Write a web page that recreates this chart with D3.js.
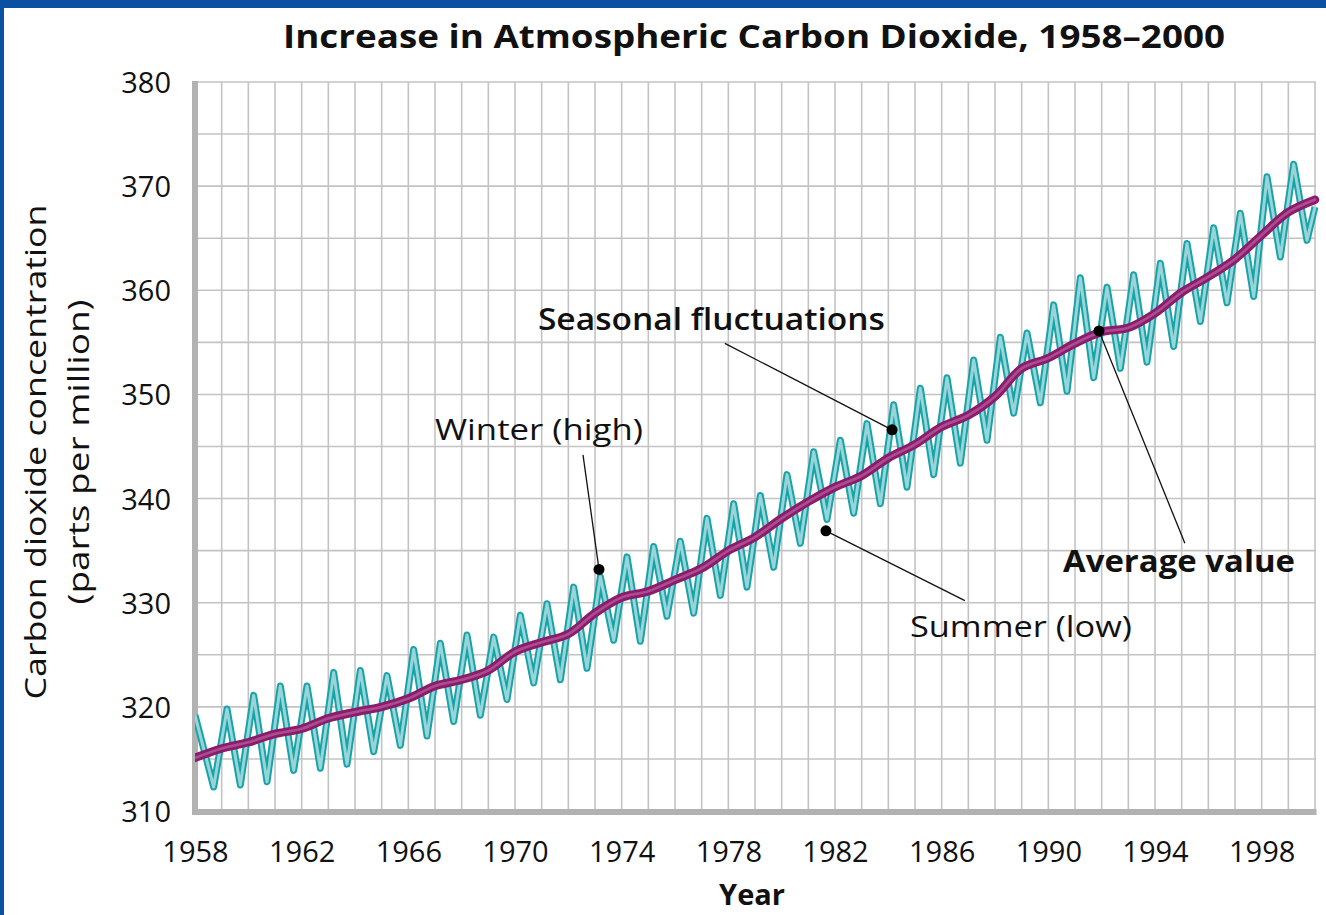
<!DOCTYPE html>
<html>
<head>
<meta charset="utf-8">
<script src="https://cdn.jsdelivr.net/npm/d3@7/dist/d3.min.js"></script>
<style>
  html, body { margin: 0; padding: 0; background: #ffffff; }
  svg { display: block; }
  text { font-family: "Open Sans", "Noto Sans", sans-serif; fill: #111; }
</style>
</head>
<body>
<svg id="chart" width="1326" height="915"></svg>
<script>
// ---------- data ----------
const years = d3.range(1958, 2001);            // 1958 ... 2000
const averageValue = [
  315.1, 316.0, 316.6, 317.4, 317.9, 318.9, 319.5, 320.0, 320.8, 322.0,
  322.6, 323.5, 325.3, 326.2, 327.0, 329.0, 330.5, 331.1, 332.2, 333.3,
  335.0, 336.3, 338.1, 339.7, 341.1, 342.2, 343.9, 345.2, 346.9, 348.0,
  349.8, 352.5, 353.5, 354.9, 356.0, 356.4, 357.8, 359.8, 361.3, 363.0,
  365.3, 367.5, 368.7
];
const seasonYears = d3.range(1958, 2000);      // 1958 ... 1999
const winterHigh = [
  319.2, 319.8, 321.1, 322.0, 322.0, 323.3, 323.5, 323.0, 325.5, 326.1,
  326.9, 326.7, 328.8, 329.9, 331.5, 332.5, 334.4, 335.4, 335.9, 338.1,
  339.5, 340.3, 342.3, 344.5, 345.6, 347.2, 349.0, 350.6, 351.6, 353.3,
  355.5, 355.9, 358.6, 361.2, 360.3, 361.5, 362.6, 364.5, 366.0, 367.4,
  370.9, 372.1
];
const summerLow = [
  312.3, 312.5, 312.8, 313.9, 314.1, 314.5, 315.7, 316.3, 317.2, 318.6,
  319.2, 320.7, 322.3, 322.6, 323.7, 326.4, 326.3, 328.7, 329.0, 330.7,
  331.5, 333.4, 335.7, 338.0, 338.6, 339.5, 341.1, 342.3, 343.4, 345.6,
  348.2, 349.2, 350.3, 351.6, 352.5, 353.1, 354.6, 357.0, 358.8, 359.4,
  363.2, 364.8
];
const seasonEndValue = 368.0;                  // value at 2000.0
const xTickLabels = [1958, 1962, 1966, 1970, 1974, 1978, 1982, 1986, 1990, 1994, 1998];
const yTickLabels = [310, 320, 330, 340, 350, 360, 370, 380];
const titleText = "Increase in Atmospheric Carbon Dioxide, 1958–2000";
const yTitle = ["Carbon dioxide concentration", "(parts per million)"];
const xTitle = "Year";
// annotations: dot & leader end in data coordinates
const annotations = [
  { text: "Seasonal fluctuations", weight: 600, dot: [1984.14, 346.6], end: [1977.87, 354.9], label: [1970.86, 356.2], len: 347 },
  { text: "Winter (high)",         weight: 400, dot: [1973.15, 333.2], end: [1972.55, 344.2], label: [1967.0, 345.6],  len: 208 },
  { text: "Summer (low)",          weight: 400, dot: [1981.66, 336.9], end: [1986.87, 330.2], label: [1984.81, 326.7], len: 222 },
  { text: "Average value",         weight: 700, dot: [1991.90, 356.1], end: [1995.12, 335.7], label: [1990.55, 332.95], len: 232 }
];

// ---------- layout ----------
const svg = d3.select("#chart");
const W = 1326, H = 915;
const x = d3.scaleLinear().domain([1958, 2000]).range([195, 1315]);
const y = d3.scaleLinear().domain([310, 380]).range([811, 82]);

// blue frame
svg.append("rect").attr("x", 0).attr("y", 0).attr("width", W).attr("height", 8).attr("fill", "#0a51a1");
svg.append("rect").attr("x", 0).attr("y", 0).attr("width", 4).attr("height", H).attr("fill", "#0a51a1");

// grid
const grid = svg.append("g");
grid.selectAll("line.v").data(d3.range(1959, 2001)).enter().append("line")
  .attr("x1", d => x(d)).attr("x2", d => x(d))
  .attr("y1", y(380)).attr("y2", y(310))
  .attr("stroke", "#c3c3c3").attr("stroke-width", 1.6);
grid.selectAll("line.h").data(d3.range(315, 381, 5)).enter().append("line")
  .attr("x1", x(1958)).attr("x2", x(2000) + 1)
  .attr("y1", d => y(d)).attr("y2", d => y(d))
  .attr("stroke", "#c3c3c3").attr("stroke-width", 1.6);

// axes (thick gray)
svg.append("line").attr("x1", x(1958)).attr("x2", x(1958))
  .attr("y1", y(380) - 1).attr("y2", y(310) + 4)
  .attr("stroke", "#b2b2b2").attr("stroke-width", 6);
svg.append("line").attr("x1", x(1958) - 3).attr("x2", x(2000) + 1.5)
  .attr("y1", y(310) + 1).attr("y2", y(310) + 1)
  .attr("stroke", "#b2b2b2").attr("stroke-width", 6);

// tick labels via d3 axes (lines hidden)
const xAxis = d3.axisBottom(x).tickValues(xTickLabels).tickFormat(d3.format("d")).tickSize(0).tickPadding(0);
const gx = svg.append("g").attr("transform", `translate(0, ${y(310)})`).call(xAxis);
gx.select(".domain").remove();
gx.selectAll("text").attr("font-size", 29).attr("fill", "#111")
  .attr("font-family", '"Open Sans", sans-serif').attr("dy", null).attr("y", 51);

const yAxis = d3.axisLeft(y).tickValues(yTickLabels).tickFormat(d3.format("d")).tickSize(0).tickPadding(0);
const gy = svg.append("g").attr("transform", `translate(171, 0)`).call(yAxis);
gy.select(".domain").remove();
gy.selectAll("text").attr("font-size", 29).attr("fill", "#111")
  .attr("font-family", '"Open Sans", sans-serif').attr("x", 0).attr("dy", "0.36em");

// clip
svg.append("clipPath").attr("id", "plotclip").append("rect")
  .attr("x", x(1958)).attr("y", y(380)).attr("width", x(2000) - x(1958) + 5).attr("height", y(310) - y(380));

// seasonal series
const seasonal = [];
seasonYears.forEach((yr, i) => {
  seasonal.push([i === 0 ? yr : yr + 0.2, winterHigh[i]]);
  seasonal.push([yr + 0.7, summerLow[i]]);
});
seasonal.push([2000, seasonEndValue]);

const line = d3.line().x(d => x(d[0])).y(d => y(d[1]));
const plot = svg.append("g").attr("clip-path", "url(#plotclip)");
plot.append("path").datum(seasonal).attr("d", line)
  .attr("fill", "none").attr("stroke", "#18a3a9").attr("stroke-width", 7)
  .attr("stroke-linejoin", "round");
plot.append("path").datum(seasonal).attr("d", line)
  .attr("fill", "none").attr("stroke", "#98d5d8").attr("stroke-width", 3)
  .attr("stroke-linejoin", "round");

// average line
const avg = years.map((yr, i) => [yr, averageValue[i]]);
const avgLine = d3.line().x(d => x(d[0])).y(d => y(d[1])).curve(d3.curveCatmullRom.alpha(0.5));
plot.append("path").datum(avg).attr("d", avgLine)
  .attr("fill", "none").attr("stroke", "#8a1b6d").attr("stroke-width", 8.5)
  .attr("stroke-linecap", "round");
plot.append("path").datum(avg).attr("d", avgLine)
  .attr("fill", "none").attr("stroke", "#ad4b8c").attr("stroke-width", 2.8)
  .attr("stroke-linecap", "round");

// annotations
const ann = svg.append("g");
annotations.forEach(a => {
  ann.append("line")
    .attr("x1", x(a.dot[0])).attr("y1", y(a.dot[1]))
    .attr("x2", x(a.end[0])).attr("y2", y(a.end[1]))
    .attr("stroke", "#111").attr("stroke-width", 1.3);
  ann.append("circle").attr("cx", x(a.dot[0])).attr("cy", y(a.dot[1])).attr("r", 5.5).attr("fill", "#000");
  ann.append("text").attr("x", x(a.label[0])).attr("y", y(a.label[1]))
    .attr("font-size", 30).attr("font-weight", a.weight)
    .attr("textLength", a.len).attr("lengthAdjust", "spacingAndGlyphs")
    .text(a.text);
});

// title
svg.append("text").attr("x", 283).attr("y", 48)
  .attr("font-size", 33).attr("font-weight", 700)
  .attr("textLength", 942).attr("lengthAdjust", "spacingAndGlyphs")
  .text(titleText);

// axis titles
svg.append("text").attr("transform", "translate(46, 452) rotate(-90)")
  .attr("text-anchor", "middle").attr("font-size", 30)
  .attr("textLength", 495).attr("lengthAdjust", "spacingAndGlyphs")
  .text(yTitle[0]);
svg.append("text").attr("transform", "translate(89, 452) rotate(-90)")
  .attr("text-anchor", "middle").attr("font-size", 30)
  .attr("textLength", 305).attr("lengthAdjust", "spacingAndGlyphs")
  .text(yTitle[1]);
svg.append("text").attr("x", 752).attr("y", 905)
  .attr("text-anchor", "middle").attr("font-size", 29).attr("font-weight", 700)
  .text(xTitle);
</script>
</body>
</html>
